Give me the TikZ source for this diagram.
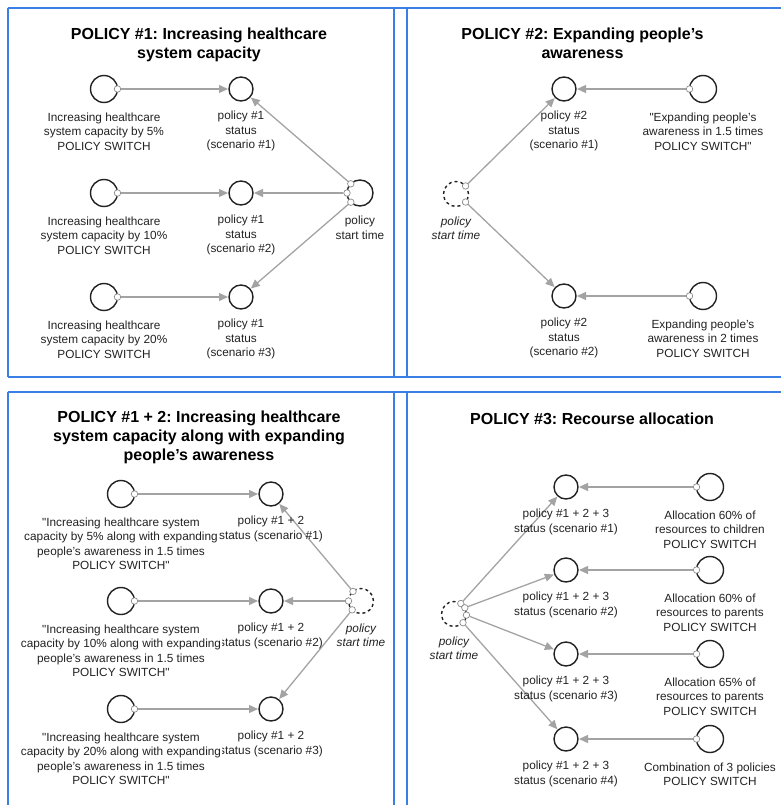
\documentclass[tikz,border=0pt]{standalone}
\usepackage{fontspec}
\setmainfont{Liberation Sans}
\usepackage{xcolor}
\usepackage{tikz}
\usetikzlibrary{positioning, arrows.meta}
\frenchspacing
\definecolor{frameblue}{HTML}{3A7FE6}
\definecolor{linkgray}{HTML}{A3A3A3}
\definecolor{portgray}{HTML}{8A8A8A}
\definecolor{inkgray}{HTML}{222222}
\tikzset{
	node distance = 9pt,
	>={Triangle[length=9pt,width=8pt]},
	switchvar/.style={
		draw=inkgray,
		circle,
		line width=1.4pt,
		outer sep=0pt,
		inner sep=0pt,
		minimum size=27pt
	},
	statusvar/.style={
		draw=inkgray,
		circle,
		line width=1.4pt,
		outer sep=0pt,
		inner sep=0pt,
		minimum size=24pt
	},
	timervar/.style={statusvar, minimum size=26pt},
	ghost timer/.style={statusvar, dashed, minimum size=25pt},
	port/.style={
		draw=portgray,
		fill=white,
		circle,
		line width=.7pt,
		inner sep=0pt,
		minimum size=6.5pt
	},
	link/.style={
		->,
		draw=linkgray,
		line width=1.3pt,
		shorten >=1pt
	},
	caption/.style={
		align=center,
		inner sep=1pt,
		text=inkgray,
		font=\fontsize{11.8}{14.5}\selectfont
	},
	wide caption/.style={caption, fill=white},
	timer caption/.style={caption, font=\fontsize{11.8}{14}\selectfont\itshape},
	heading/.style={
		align=center,
		anchor=north,
		inner sep=0pt,
		font=\fontsize{16}{19}\selectfont\bfseries
	},
	panel/.style={draw=frameblue, line width=1.5pt}
}
\newcommand{\qq}{\textquotedbl}

\begin{document}
\begin{tikzpicture}[x=1pt, y=-1pt]
	\useasboundingbox (0,0) rectangle (781,805);
	% panel frames
	\draw[panel] (8,8) -- (781,8);
	\draw[panel] (8,377) -- (781,377);
	\draw[panel] (8,392) -- (781,392);
	\draw[panel] (8,8) -- (8,377);
	\draw[panel] (394,8) -- (394,377);
	\draw[panel] (407,8) -- (407,377);
	\draw[panel] (8,392) -- (8,805);
	\draw[panel] (394,392) -- (394,805);
	\draw[panel] (407,392) -- (407,805);

	% policy 1
	\node[heading] (h1) at (199,28) {POLICY \#1: Increasing healthcare\\system capacity};
	\node[switchvar] (a11) at (104,89) {};
	\node[switchvar] (a12) at (104,193) {};
	\node[switchvar] (a13) at (104,297) {};
	\node[statusvar] (b11) at (241,89) {};
	\node[statusvar] (b12) at (241,193) {};
	\node[statusvar] (b13) at (241,297) {};
	\node[timervar] (t1) at (360,193) {};
	\node[port] (pa11) at (a11.east) {};
	\node[port] (pa12) at (a12.east) {};
	\node[port] (pa13) at (a13.east) {};
	\node[port] (pt11) at (t1.135) {};
	\node[port] (pt12) at (t1.180) {};
	\node[port] (pt13) at (t1.225) {};
	\draw[link] (pa11) -- (b11);
	\draw[link] (pa12) -- (b12);
	\draw[link] (pa13) -- (b13);
	\draw[link] (pt11) -- (b11);
	\draw[link] (pt12) -- (b12);
	\draw[link] (pt13) -- (b13);
	\node[caption, below=of a11] (la11) {Increasing healthcare\\system capacity by 5\%\\POLICY SWITCH};
	\node[caption, below=of a12] (la12) {Increasing healthcare\\system capacity by 10\%\\POLICY SWITCH};
	\node[caption, below=of a13] (la13) {Increasing healthcare\\system capacity by 20\%\\POLICY SWITCH};
	\node[caption, below=of b11] (lb11) {policy \#1\\status\\(scenario \#1)};
	\node[caption, below=of b12] (lb12) {policy \#1\\status\\(scenario \#2)};
	\node[caption, below=of b13] (lb13) {policy \#1\\status\\(scenario \#3)};
	\node[caption, below=of t1] (lt1) {policy\\start time};

	% policy 2
	\node[heading] (h2) at (582.5,28) {POLICY \#2: Expanding people’s\\awareness};
	\node[switchvar] (a21) at (703,89) {};
	\node[switchvar] (a22) at (703,296) {};
	\node[statusvar] (b21) at (564,89) {};
	\node[statusvar] (b22) at (564,296) {};
	\node[ghost timer] (t2) at (456,194) {};
	\node[port] (pa21) at (a21.west) {};
	\node[port] (pa22) at (a22.west) {};
	\node[port] (pt21) at (t2.40) {};
	\node[port] (pt22) at (t2.-40) {};
	\draw[link] (pa21) -- (b21);
	\draw[link] (pa22) -- (b22);
	\draw[link] (pt21) -- (b21);
	\draw[link] (pt22) -- (b22);
	\node[caption, below=of a21] (la21) {\qq Expanding people’s\\awareness in 1.5 times\\POLICY SWITCH\qq};
	\node[caption, below=of a22] (la22) {Expanding people’s\\awareness in 2 times\\POLICY SWITCH};
	\node[caption, below=of b21] (lb21) {policy \#2\\status\\(scenario \#1)};
	\node[caption, below=of b22] (lb22) {policy \#2\\status\\(scenario \#2)};
	\node[timer caption, below=of t2] (lt2) {policy\\start time};

	% policy 1 + 2
	\node[heading] (h3) at (199,411) {POLICY \#1 + 2: Increasing healthcare\\system capacity along with expanding\\people’s awareness};
	\node[switchvar] (a31) at (121,494) {};
	\node[switchvar] (a32) at (121,601) {};
	\node[switchvar] (a33) at (121,709) {};
	\node[statusvar] (b31) at (271,494) {};
	\node[statusvar] (b32) at (271,601) {};
	\node[statusvar] (b33) at (271,709) {};
	\node[ghost timer] (t3) at (361,601) {};
	\node[port] (pa31) at (a31.east) {};
	\node[port] (pa32) at (a32.east) {};
	\node[port] (pa33) at (a33.east) {};
	\node[port] (pt31) at (t3.130) {};
	\node[port] (pt32) at (t3.180) {};
	\node[port] (pt33) at (t3.225) {};
	\draw[link] (pa31) -- (b31);
	\draw[link] (pa32) -- (b32);
	\draw[link] (pa33) -- (b33);
	\draw[link] (pt31) -- (b31);
	\draw[link] (pt32) -- (b32);
	\draw[link] (pt33) -- (b33);
	\node[caption, below=of b31] (lb31) {policy \#1 + 2\\status (scenario \#1)};
	\node[caption, below=of b32] (lb32) {policy \#1 + 2\\status (scenario \#2)};
	\node[caption, below=of b33] (lb33) {policy \#1 + 2\\status (scenario \#3)};
	\node[wide caption, below=of a31] (la31) {\qq Increasing healthcare system\\capacity by 5\% along with expanding\\people’s awareness in 1.5 times\\POLICY SWITCH\qq};
	\node[wide caption, below=of a32] (la32) {\qq Increasing healthcare system\\capacity by 10\% along with expanding\\people’s awareness in 1.5 times\\POLICY SWITCH\qq};
	\node[wide caption, below=of a33] (la33) {\qq Increasing healthcare system\\capacity by 20\% along with expanding\\people’s awareness in 1.5 times\\POLICY SWITCH\qq};
	\node[timer caption, below=of t3] (lt3) {policy\\start time};

	% policy 3
	\node[heading] (h4) at (592,413) {POLICY \#3: Recourse allocation};
	\node[switchvar] (a41) at (710,487) {};
	\node[switchvar] (a42) at (710,570) {};
	\node[switchvar] (a43) at (710,654) {};
	\node[switchvar] (a44) at (710,739) {};
	\node[statusvar] (b41) at (566,487) {};
	\node[statusvar] (b42) at (566,570) {};
	\node[statusvar] (b43) at (566,654) {};
	\node[statusvar] (b44) at (566,739) {};
	\node[ghost timer] (t4) at (454,614) {};
	\node[port] (pa41) at (a41.west) {};
	\node[port] (pa42) at (a42.west) {};
	\node[port] (pa43) at (a43.west) {};
	\node[port] (pa44) at (a44.west) {};
	\node[port] (pt41) at (t4.57) {};
	\node[port] (pt42) at (t4.30) {};
	\node[port] (pt43) at (t4.-5) {};
	\node[port] (pt44) at (t4.-44) {};
	\draw[link] (pa41) -- (b41);
	\draw[link] (pa42) -- (b42);
	\draw[link] (pa43) -- (b43);
	\draw[link] (pa44) -- (b44);
	\draw[link] (pt41) -- (b41);
	\draw[link] (pt42) -- (b42);
	\draw[link] (pt43) -- (b43);
	\draw[link] (pt44) -- (b44);
	\node[caption, below=of a41] (la41) {Allocation 60\% of\\resources to children\\POLICY SWITCH};
	\node[caption, below=of a42] (la42) {Allocation 60\% of\\resources to parents\\POLICY SWITCH};
	\node[caption, below=of a43] (la43) {Allocation 65\% of\\resources to parents\\POLICY SWITCH};
	\node[caption, below=of a44] (la44) {Combination of 3 policies\\POLICY SWITCH};
	\node[caption, below=of b41] (lb41) {policy \#1 + 2 + 3\\status (scenario \#1)};
	\node[caption, below=of b42] (lb42) {policy \#1 + 2 + 3\\status (scenario \#2)};
	\node[caption, below=of b43] (lb43) {policy \#1 + 2 + 3\\status (scenario \#3)};
	\node[caption, below=of b44] (lb44) {policy \#1 + 2 + 3\\status (scenario \#4)};
	\node[timer caption, below=of t4] (lt4) {policy\\start time};
\end{tikzpicture}
\end{document}
